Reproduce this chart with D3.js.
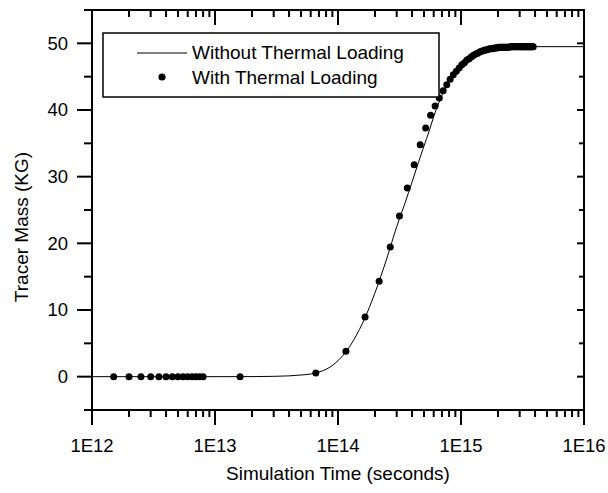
<!DOCTYPE html>
<html>
<head>
<meta charset="utf-8">
<script src="https://cdn.jsdelivr.net/npm/d3@7"></script>
<style>
    html, body { margin: 0; padding: 0; background: #fff; }
    svg { display: block; font-family: "Liberation Sans", Arial, sans-serif; }
</style>
</head>
<body>
<svg id="chart" width="608" height="493"></svg>
<script>
// Time values are in units of 1E12 seconds
const lineTimes = [1, 10, 20, 30, 40, 50, 60, 70, 80, 100, 120, 140, 160, 180, 200, 250, 300, 350,
    400, 450, 500, 550, 600, 700, 800, 900, 1000, 1200, 1500, 2000, 3000, 5000, 10000];
const lineMass = [0, 0, 0.01, 0.05, 0.12, 0.25, 0.4, 0.7, 1.1, 2.4, 4.1, 6.1, 8.2, 10.4, 12.6, 17.8, 22.5, 26.0,
    29.2, 32.1, 34.6, 36.8, 39.0, 42.2, 44.3, 45.7, 46.7, 48.0, 49.0, 49.4, 49.5, 49.5, 49.5];

const thermalTimes = [1.5, 2, 2.5, 3, 3.5, 4, 4.5, 5, 5.5, 6, 6.5, 7, 7.5, 8,
    16, 66, 116, 166, 216, 266, 316, 366, 416, 466, 516, 566,
    616, 666, 716, 766, 816, 866, 916, 966, 1016, 1066, 1116, 1166, 1216, 1266, 1316, 1366,
    1416, 1466, 1516, 1566, 1616, 1666, 1716, 1766, 1816, 1866, 1916, 1966, 2016, 2066,
    2116, 2166, 2216, 2266, 2316, 2366, 2416, 2466, 2516, 2566, 2616, 2666, 2716, 2766,
    2816, 2866, 2916, 2966, 3016, 3066, 3116, 3166, 3216, 3266, 3316, 3366, 3416, 3466,
    3516, 3566, 3616, 3666, 3716, 3766, 3816, 3866];
const thermalMass = [0, 0, 0, 0, 0, 0, 0, 0, 0, 0, 0, 0, 0, 0,
    0, 0.55, 3.8, 8.95, 14.3, 19.45, 24.1, 28.3, 31.8, 34.8, 37.3, 39.2,
    40.6, 41.8, 42.9, 43.8, 44.6, 45.3, 45.8, 46.3, 46.8, 47.1, 47.5, 47.7, 48.0, 48.2, 48.4, 48.5,
    48.7, 48.8, 48.9, 49.0, 49.0, 49.1, 49.2, 49.2, 49.2, 49.3, 49.3, 49.3, 49.4, 49.4,
    49.4, 49.4, 49.4, 49.4, 49.4, 49.4, 49.4, 49.4, 49.5, 49.5, 49.5, 49.5, 49.5, 49.5,
    49.5, 49.5, 49.5, 49.5, 49.5, 49.5, 49.5, 49.5, 49.5, 49.5, 49.5, 49.5, 49.5, 49.5,
    49.5, 49.5, 49.5, 49.5, 49.5, 49.5, 49.5, 49.5];

const xMajorTicks = [1e12, 1e13, 1e14, 1e15, 1e16];
const xMinorFactors = [2, 3, 4, 5, 6, 7, 8, 9];
const yMajorTicks = [0, 10, 20, 30, 40, 50];
const yMinorTicks = [-5, 5, 15, 25, 35, 45, 55];

const legendLabels = ['Without Thermal Loading', 'With Thermal Loading'];

const margin = { top: 10, right: 24, bottom: 83, left: 92 };
const width = 608 - margin.left - margin.right;
const height = 493 - margin.top - margin.bottom;
const TICK_FONT = 18.5;
const TITLE_FONT = 19;

const svg = d3.select('#chart');
const g = svg.append('g').attr('transform', `translate(${margin.left},${margin.top})`);

const x = d3.scaleLog().domain([1e12, 1e16]).range([0, width]);
const y = d3.scaleLinear().domain([-5, 55]).range([height, 0]);

const xMinorTicks = [];
xMajorTicks.slice(0, -1).forEach(d => xMinorFactors.forEach(f => xMinorTicks.push(d * f)));

// Draw a set of tick marks: pos -> coordinate along axis, from/to -> offsets across
function drawTicks(values, scale, vertical, base, len) {
    g.append('g')
        .selectAll('line')
        .data(values)
        .enter()
        .append('line')
        .attr(vertical ? 'y1' : 'x1', d => scale(d))
        .attr(vertical ? 'y2' : 'x2', d => scale(d))
        .attr(vertical ? 'x1' : 'y1', base)
        .attr(vertical ? 'x2' : 'y2', base + len)
        .attr('stroke', '#000')
        .attr('stroke-width', 2);
}

// Bottom (outward) and top (inward)
drawTicks(xMinorTicks, x, false, height, 7);
drawTicks(xMajorTicks, x, false, height, 15);
drawTicks(xMinorTicks, x, false, 0, 7);
drawTicks(xMajorTicks, x, false, 0, 15);

// Left (outward) and right (short, inward)
drawTicks(yMinorTicks, y, true, 0, -8);
drawTicks(yMajorTicks, y, true, 0, -15);
drawTicks(yMinorTicks, y, true, width, -5);
drawTicks(yMajorTicks, y, true, width, -7);

// Frame
g.append('rect')
    .attr('width', width)
    .attr('height', height)
    .attr('fill', 'none')
    .attr('stroke', '#000')
    .attr('stroke-width', 2);

// Tick labels
g.append('g')
    .selectAll('text')
    .data(xMajorTicks)
    .enter()
    .append('text')
    .attr('x', d => x(d))
    .attr('y', height + 42)
    .attr('text-anchor', 'middle')
    .attr('font-size', TICK_FONT + 'px')
    .attr('fill', '#000')
    .text(d => '1E' + Math.round(Math.log10(d)));

g.append('g')
    .selectAll('text')
    .data(yMajorTicks)
    .enter()
    .append('text')
    .attr('x', -24)
    .attr('y', d => y(d))
    .attr('dy', '0.35em')
    .attr('text-anchor', 'end')
    .attr('font-size', TICK_FONT + 'px')
    .attr('fill', '#000')
    .text(d => d);

// Without thermal loading - smooth line
const lineData = lineTimes.map((t, i) => ({ t: t * 1e12, m: lineMass[i] }));
g.append('path')
    .datum(lineData)
    .attr('fill', 'none')
    .attr('stroke', '#000')
    .attr('stroke-width', 1)
    .attr('d', d3.line().x(d => x(d.t)).y(d => y(d.m)).curve(d3.curveMonotoneX));

// With thermal loading - dots
const dotData = thermalTimes.map((t, i) => ({ t: t * 1e12, m: thermalMass[i] }));
g.selectAll('.dot')
    .data(dotData)
    .enter()
    .append('circle')
    .attr('class', 'dot')
    .attr('cx', d => x(d.t))
    .attr('cy', d => y(d.m))
    .attr('r', 3.5)
    .attr('fill', '#000');

// Legend
const legend = svg.append('g').attr('transform', 'translate(103,33)');
legend.append('rect')
    .attr('width', 336)
    .attr('height', 64)
    .attr('fill', '#fff')
    .attr('stroke', '#000')
    .attr('stroke-width', 1.5);
legend.append('line')
    .attr('x1', 34).attr('x2', 84)
    .attr('y1', 20).attr('y2', 20)
    .attr('stroke', '#000')
    .attr('stroke-width', 1);
legend.append('circle')
    .attr('cx', 59).attr('cy', 44)
    .attr('r', 3.6)
    .attr('fill', '#000');
legend.selectAll('.legend-text')
    .data(legendLabels)
    .enter()
    .append('text')
    .attr('class', 'legend-text')
    .attr('x', 89)
    .attr('y', (d, i) => 26 + i * 24.5)
    .attr('font-size', TITLE_FONT + 'px')
    .attr('fill', '#000')
    .text(d => d);

// Axis titles
svg.append('text')
    .attr('x', margin.left + width / 2)
    .attr('y', 480)
    .attr('text-anchor', 'middle')
    .attr('font-size', TITLE_FONT + 'px')
    .attr('fill', '#000')
    .text('Simulation Time (seconds)');

svg.append('text')
    .attr('transform', 'translate(28,227) rotate(-90)')
    .attr('text-anchor', 'middle')
    .attr('font-size', TITLE_FONT + 'px')
    .attr('fill', '#000')
    .text('Tracer Mass (KG)');
</script>
</body>
</html>
